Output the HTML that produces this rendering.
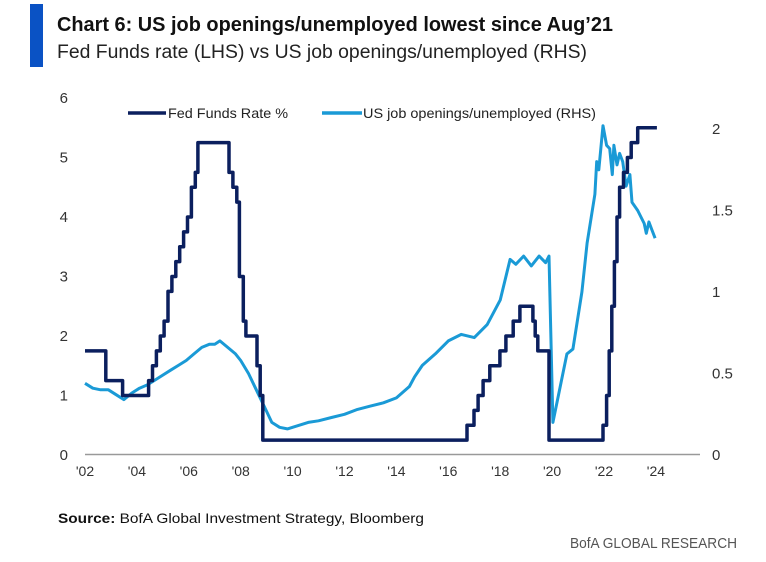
<!DOCTYPE html>
<html><head><meta charset="utf-8"><style>
html,body{margin:0;padding:0;background:#fff;}
svg{display:block;font-family:"Liberation Sans",sans-serif;}
</style></head><body>
<svg id="chart" width="766" height="562" viewBox="0 0 766 562">
<rect x="30" y="4" width="13" height="63" fill="#0a52c4"/>
<text x="57" y="31" font-size="20" font-weight="bold" fill="#111" textLength="556" lengthAdjust="spacingAndGlyphs">Chart 6: US job openings/unemployed lowest since Aug’21</text>
<text x="57" y="58" font-size="19" fill="#222" textLength="530" lengthAdjust="spacingAndGlyphs">Fed Funds rate (LHS) vs US job openings/unemployed (RHS)</text>
<line x1="85" y1="454.5" x2="700" y2="454.5" stroke="#999" stroke-width="1.5"/>
<g id="leftTicks"></g>
<g id="rightTicks"></g>
<g id="xTicks"></g>
<g id="series"></g>
<g>
<g>
<line x1="128" y1="113" x2="166" y2="113" stroke="#0b1f5e" stroke-width="3.5"/>
<text x="168" y="118" font-size="14" fill="#222" textLength="120" lengthAdjust="spacingAndGlyphs">Fed Funds Rate %</text></g>
<g>
<line x1="322" y1="113" x2="362" y2="113" stroke="#1a9ad6" stroke-width="3.5"/>
<text x="363" y="118" font-size="14" fill="#222" textLength="233" lengthAdjust="spacingAndGlyphs">US job openings/unemployed (RHS)</text></g>
</g>
<text x="58" y="523" font-size="14" fill="#111" textLength="366" lengthAdjust="spacingAndGlyphs"><tspan font-weight="bold">Source:</tspan> BofA Global Investment Strategy, Bloomberg</text>
<text x="737" y="548" font-size="15" fill="#555" text-anchor="end" textLength="167" lengthAdjust="spacingAndGlyphs">BofA GLOBAL RESEARCH</text>
</svg>
<script>
const leftTickValues=[0,1,2,3,4,5,6];
const rightTickValues=[0,0.5,1,1.5,2];
const rightTickLabels=["0","0.5","1","1.5","2"];
const xTickYears=[2002,2004,2006,2008,2010,2012,2014,2016,2018,2020,2022,2024];
const xTickLabels=["'02","'04","'06","'08","'10","'12","'14","'16","'18","'20","'22","'24"];
const fedDates=[2002.0,2002.8,2003.45,2004.45,2004.6,2004.75,2004.9,2005.05,2005.2,2005.35,2005.5,2005.65,2005.8,2005.95,2006.1,2006.25,2006.35,2007.55,2007.7,2007.85,2007.95,2008.1,2008.2,2008.63,2008.75,2008.85,2016.72,2016.99,2017.15,2017.34,2017.6,2017.99,2018.22,2018.5,2018.76,2019.26,2019.35,2019.45,2019.88,2021.96,2022.1,2022.2,2022.3,2022.4,2022.5,2022.6,2022.75,2022.9,2023.05,2023.3,2024.04];
const fedRates=[1.75,1.25,1.0,1.25,1.5,1.75,2.0,2.25,2.75,3.0,3.25,3.5,3.75,4.0,4.5,4.75,5.25,4.75,4.5,4.25,3.0,2.25,2.0,1.5,1.0,0.25,0.5,0.75,1.0,1.25,1.5,1.75,2.0,2.25,2.5,2.25,2.0,1.75,0.25,0.5,1.0,1.75,2.5,3.25,4.0,4.5,4.75,5.0,5.25,5.5,5.5];
const ratioDates=[2002.0,2002.3,2002.6,2002.9,2003.2,2003.5,2003.8,2004.1,2004.4,2004.7,2005.0,2005.3,2005.6,2005.9,2006.2,2006.5,2006.8,2007.0,2007.2,2007.5,2007.8,2008.0,2008.3,2008.6,2008.9,2009.2,2009.5,2009.8,2010.2,2010.6,2011.0,2011.5,2012.0,2012.5,2013.0,2013.5,2014.0,2014.5,2014.7,2015.0,2015.5,2016.0,2016.5,2017.0,2017.5,2018.0,2018.38,2018.6,2018.9,2019.2,2019.5,2019.75,2019.88,2020.03,2020.57,2020.8,2021.15,2021.35,2021.65,2021.72,2021.8,2021.96,2022.1,2022.22,2022.32,2022.38,2022.5,2022.6,2022.72,2022.85,2023.0,2023.08,2023.3,2023.55,2023.63,2023.73,2023.85,2023.97];
const ratioValues=[0.44,0.41,0.40,0.40,0.37,0.34,0.38,0.41,0.43,0.46,0.49,0.52,0.55,0.58,0.62,0.66,0.68,0.68,0.70,0.66,0.62,0.58,0.50,0.40,0.30,0.20,0.17,0.16,0.18,0.20,0.21,0.23,0.25,0.28,0.30,0.32,0.35,0.42,0.48,0.55,0.62,0.70,0.74,0.72,0.80,0.95,1.20,1.17,1.22,1.16,1.22,1.18,1.22,0.20,0.62,0.65,1.00,1.30,1.60,1.80,1.75,2.02,1.90,1.88,1.72,1.90,1.78,1.85,1.80,1.65,1.72,1.55,1.50,1.42,1.36,1.43,1.38,1.33];

const NS="http://www.w3.org/2000/svg";
const xOf=yr=>85+(yr-2002)*25.95;
const yL=v=>455-v*59.5;
const yR=v=>455-v*163;
function mk(tag,attrs,parent){const e=document.createElementNS(NS,tag);for(const k in attrs)e.setAttribute(k,attrs[k]);parent.appendChild(e);return e;}
const lt=document.getElementById('leftTicks');
leftTickValues.forEach(v=>{const t=mk('text',{x:68,y:yL(v)+5,'font-size':15,fill:'#333','text-anchor':'end'},lt);


t.textContent=String(v);});
const rt=document.getElementById('rightTicks');
rightTickValues.forEach((v,i)=>{const t=mk('text',{x:712,y:yR(v)+5,'font-size':15,fill:'#333'},rt);


t.textContent=rightTickLabels[i];});
const xt=document.getElementById('xTicks');
xTickYears.forEach((yr,i)=>{const t=mk('text',{x:xOf(yr),y:476,'font-size':14,fill:'#333','text-anchor':'middle'},xt);


t.textContent=xTickLabels[i];});
const g=document.getElementById('series');
let d='';
ratioDates.forEach((yr,i)=>{d+=(i?'L':'M')+xOf(yr).toFixed(1)+' '+yR(ratioValues[i]).toFixed(1);});
const p1=mk('path',{d:d,fill:'none',stroke:'#1a9ad6','stroke-width':3,'stroke-linejoin':'round'},g);


let d2='';
fedDates.forEach((yr,i)=>{const x=xOf(yr).toFixed(1),y=yL(fedRates[i]).toFixed(1);
if(i===0)d2+='M'+x+' '+y;else{d2+='L'+x+' '+yL(fedRates[i-1]).toFixed(1)+'L'+x+' '+y;}});
d2+='L'+xOf(2024.04).toFixed(1)+' '+yL(fedRates[fedRates.length-1]).toFixed(1);
const p2=mk('path',{d:d2,fill:'none',stroke:'#0b1f5e','stroke-width':3.5,'stroke-linejoin':'round'},g);


</script>
</body></html>
